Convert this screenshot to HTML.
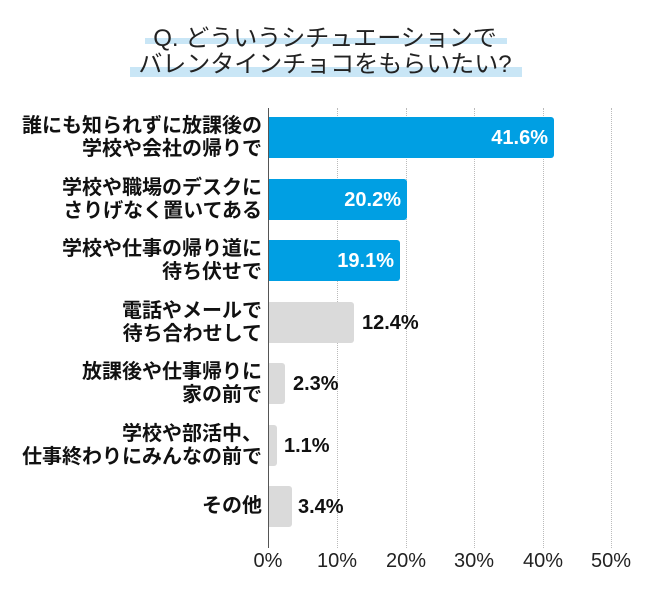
<!DOCTYPE html>
<html><head><meta charset="utf-8"><style>
body{margin:0;background:#fff;width:650px;height:599px;overflow:hidden;position:relative;font-family:"Liberation Sans","Noto Sans CJK JP",sans-serif}
.t{position:absolute;left:0;width:650px;text-align:center;font-size:24px;color:#222;line-height:28px}
.hl{position:absolute;background:#c9e6f6}
.lab{position:absolute;right:388px;text-align:right;font-weight:bold;font-size:20px;line-height:23px;color:#111;white-space:nowrap}
.bar{position:absolute;left:269px;height:41px;border-radius:0 3px 3px 0}
.v{position:absolute;font-weight:bold;font-size:20px;line-height:22px;white-space:nowrap}
.g{position:absolute;top:108px;height:440px;border-left:1px dotted #bbb}
.tk{position:absolute;top:550px;font-size:20px;color:#222;width:60px;margin-left:-30px;text-align:center}
</style></head><body>
<div class="hl" style="left:145px;top:38px;width:362px;height:6px"></div>
<div class="hl" style="left:130px;top:67px;width:392px;height:10px"></div>
<div class="t" style="top:25px">Q. どういうシチュエーションで</div>
<div class="t" style="top:51px">バレンタインチョコをもらいたい?</div>

<div class="g" style="left:337px"></div><div class="g" style="left:406px"></div><div class="g" style="left:474px"></div><div class="g" style="left:543px"></div><div class="g" style="left:611px"></div>
<div style="position:absolute;left:268px;top:108px;width:1px;height:440px;background:#555"></div>

<div class="bar" style="top:117px;width:285px;background:#009fe3"></div>
<div class="v" style="top:127px;right:102px;color:#fff">41.6%</div>
<div class="lab" style="top:115px">誰にも知られずに放課後の<br>学校や会社の帰りで</div>

<div class="bar" style="top:179px;width:138px;background:#009fe3"></div>
<div class="v" style="top:189px;right:249px;color:#fff">20.2%</div>
<div class="lab" style="top:177px">学校や職場のデスクに<br>さりげなく置いてある</div>

<div class="bar" style="top:240px;width:131px;background:#009fe3"></div>
<div class="v" style="top:250px;right:256px;color:#fff">19.1%</div>
<div class="lab" style="top:238px">学校や仕事の帰り道に<br>待ち伏せで</div>

<div class="bar" style="top:302px;width:85px;background:#dadada"></div>
<div class="v" style="top:312px;left:362px;color:#111">12.4%</div>
<div class="lab" style="top:300px">電話やメールで<br>待ち合わせして</div>

<div class="bar" style="top:363px;width:16px;background:#dadada"></div>
<div class="v" style="top:373px;left:293px;color:#111">2.3%</div>
<div class="lab" style="top:361px">放課後や仕事帰りに<br>家の前で</div>

<div class="bar" style="top:425px;width:8px;background:#dadada"></div>
<div class="v" style="top:435px;left:284px;color:#111">1.1%</div>
<div class="lab" style="top:423px">学校や部活中、<br>仕事終わりにみんなの前で</div>

<div class="bar" style="top:486px;width:23px;background:#dadada"></div>
<div class="v" style="top:496px;left:298px;color:#111">3.4%</div>
<div class="lab" style="top:495px">その他</div>

<div class="tk" style="left:268px">0%</div><div class="tk" style="left:337px">10%</div><div class="tk" style="left:406px">20%</div><div class="tk" style="left:474px">30%</div><div class="tk" style="left:543px">40%</div><div class="tk" style="left:611px">50%</div>
</body></html>
